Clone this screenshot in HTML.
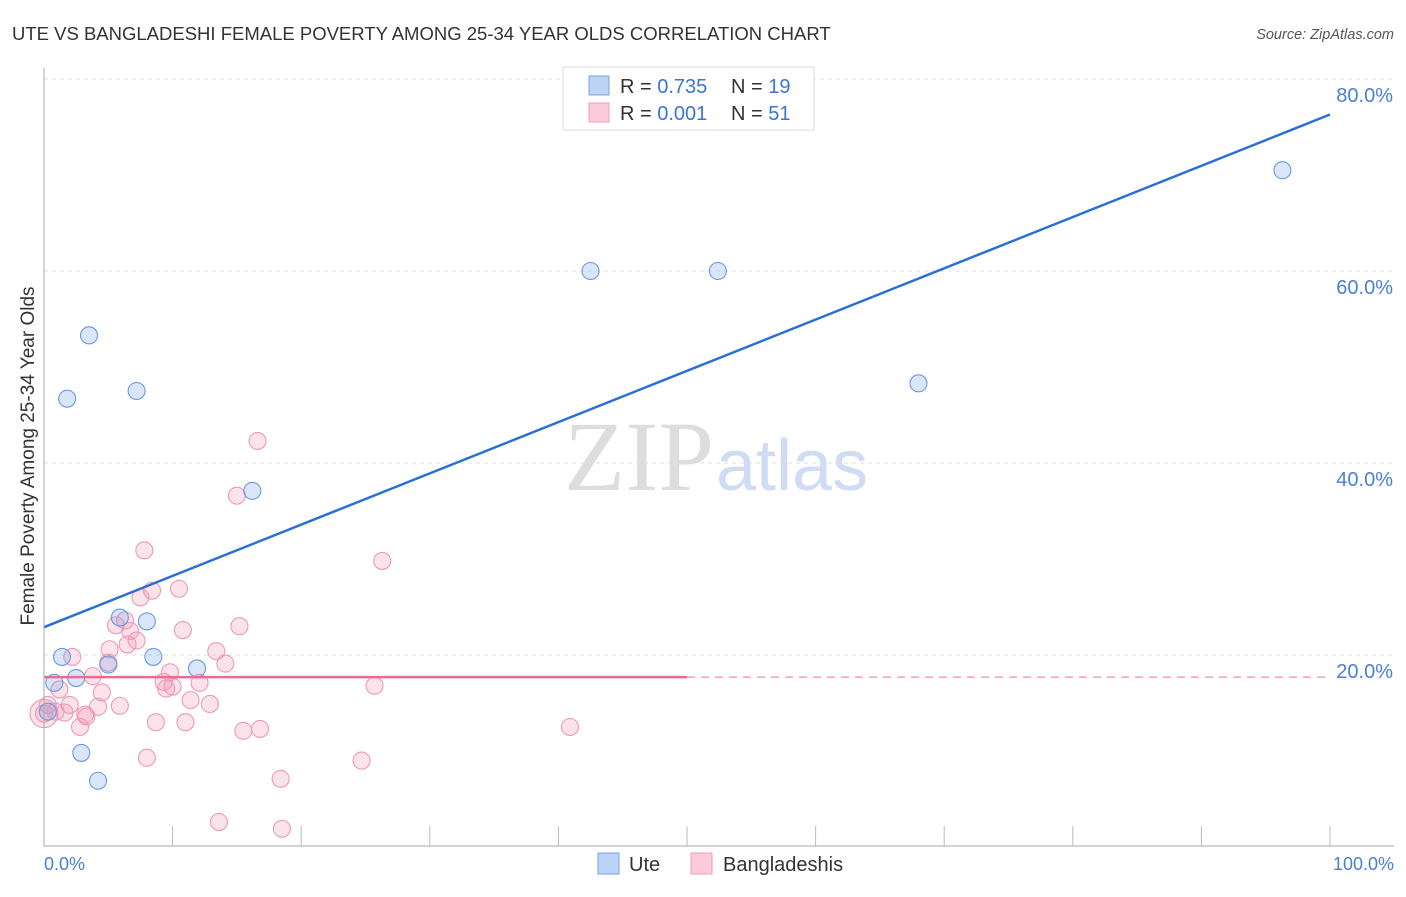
<!DOCTYPE html>
<html><head><meta charset="utf-8"><style>
body{margin:0;background:#fff;font-family:"Liberation Sans",sans-serif}
svg text{font-family:"Liberation Sans",sans-serif}
</style></head><body>
<svg width="1406" height="892" id="c">
<text x="12" y="40" font-size="18.5" fill="#333">UTE VS BANGLADESHI FEMALE POVERTY AMONG 25-34 YEAR OLDS CORRELATION CHART</text>
<text x="1394" y="39" font-size="14.5" fill="#555" font-style="italic" text-anchor="end">Source: ZipAtlas.com</text>
<text x="34" y="456" font-size="19" fill="#333" text-anchor="middle" transform="rotate(-90 34 456)">Female Poverty Among 25-34 Year Olds</text>
<text x="714" y="490" font-size="100" fill="#ddd" text-anchor="end" style="font-family:'Liberation Serif',serif">ZIP</text>
<text x="716" y="490" font-size="72" fill="#cfdcf3">atlas</text>
<g id="grid"></g><g id="ticks"></g><g id="pts"></g><g id="lines"></g>
<line x1="44" y1="68" x2="44" y2="846" stroke="#aaa"/>
<line x1="44" y1="846" x2="1394" y2="846" stroke="#aaa"/>
<text x="44" y="870" font-size="18" fill="#4a7fd4">0.0%</text>
<text x="1394" y="870" font-size="18" fill="#4a7fd4" text-anchor="end">100.0%</text>
<g>
<rect x="563" y="67" width="251" height="63" fill="#fff" stroke="#ddd"/>
<rect x="589" y="76" width="20" height="19" fill="#bcd3f5" stroke="#7aa3e3"/>
<rect x="589" y="103" width="20" height="19" fill="#fbcbd9" stroke="#ee9fb7"/>
<text x="620" y="93" font-size="20" fill="#333">R = <tspan fill="#3b74d6">0.735</tspan></text>
<text x="731" y="93" font-size="20" fill="#333">N = <tspan fill="#3b74d6">19</tspan></text>
<text x="620" y="120" font-size="20" fill="#333">R = <tspan fill="#3b74d6">0.001</tspan></text>
<text x="731" y="120" font-size="20" fill="#333">N = <tspan fill="#3b74d6">51</tspan></text>
</g>
<g>
<rect x="598" y="853" width="21" height="21" fill="#bcd3f5" stroke="#7aa3e3"/>
<text x="629" y="871" font-size="20" fill="#333">Ute</text>
<rect x="691" y="853" width="21" height="21" fill="#fbcbd9" stroke="#ee9fb7"/>
<text x="723" y="871" font-size="20" fill="#333">Bangladeshis</text>
</g>
</svg>
<script>
const yTicks=[20,40,60,80];
const yTickLabels=["20.0%","40.0%","60.0%","80.0%"];
const xTicks=[10,20,30,40,50,60,70,80,90,100];
const uteX=[0.3,0.8,1.4,1.8,2.5,2.9,3.5,4.2,5.0,5.9,7.2,8.0,8.5,11.9,16.2,42.5,52.4,68.0,96.3];
const uteY=[14.1,17.1,19.8,46.7,17.6,9.8,53.3,6.9,19.0,23.9,47.5,23.5,19.8,18.6,37.1,60.0,60.0,48.3,70.5];
const banX=[0,0.3,0.9,1.2,1.6,2.0,2.2,2.8,3.2,3.3,3.8,4.2,4.5,5.0,5.1,5.6,5.9,6.3,6.5,6.7,7.2,7.5,7.8,8.0,8.4,8.7,9.3,9.5,9.8,10.0,10.5,10.8,11.0,11.4,12.1,12.9,13.4,13.6,14.1,15.0,15.2,15.5,16.6,16.8,18.4,18.5,24.7,25.7,26.3,40.9,0];
const banY=[13.9,14.8,14.1,16.4,14.0,14.8,19.8,12.5,13.8,13.6,17.8,14.6,16.1,19.2,20.6,23.1,14.7,23.6,21.1,22.5,21.5,26.0,30.9,9.3,26.7,13.0,17.2,16.5,18.2,16.7,26.9,22.6,13.0,15.3,17.1,14.9,20.4,2.6,19.1,36.6,23.0,12.1,42.3,12.3,7.1,1.9,9.0,16.8,29.8,12.5,13.9];
const uteLine=[22.9,76.3];
const banLine=[17.7,17.7];
const banSolidEnd=50;
const NS="http://www.w3.org/2000/svg";
const X=v=>44+v*12.86, Y=v=>847-v*9.6;
function mk(t,a,p){const e=document.createElementNS(NS,t);for(const k in a)e.setAttribute(k,a[k]);document.getElementById(p).appendChild(e);return e;}
yTicks.forEach((t,i)=>{
 const l=mk('line',{x1:44,x2:1394,y1:Y(t),y2:Y(t),stroke:'#ddd','stroke-dasharray':'4,4'},'grid');
 
 
 const tx=mk('text',{x:1393,y:Y(t)+23,'font-size':20,fill:'#4a7fd4','text-anchor':'end'},'grid');
 tx.textContent=yTickLabels[i];
 
 
});
xTicks.forEach(t=>{
 const l=mk('line',{x1:X(t),x2:X(t),y1:826,y2:846,stroke:'#bbb'},'ticks');
 
 
});
banX.forEach((x,i)=>{
 const c=mk('circle',{cx:X(x),cy:Y(banY[i]),r:i==banX.length-1?14:8.5,fill:'rgba(244,150,180,0.28)',stroke:'#eb9bb4','stroke-width':1.1},'pts');
 
 
});
uteX.forEach((x,i)=>{
 const c=mk('circle',{cx:X(x),cy:Y(uteY[i]),r:8.5,fill:'rgba(120,165,235,0.28)',stroke:'#6b9ae0','stroke-width':1.1},'pts');
 
 
});
let l=mk('line',{x1:X(0),y1:Y(uteLine[0]),x2:X(100),y2:Y(uteLine[1]),stroke:'#2a6fd6','stroke-width':2.5},'lines');


const bm=banLine[0]+(banLine[1]-banLine[0])*banSolidEnd/100;
l=mk('line',{x1:X(0),y1:Y(banLine[0]),x2:X(banSolidEnd),y2:Y(bm),stroke:'#ec6a94','stroke-width':2.5},'lines');


l=mk('line',{x1:X(banSolidEnd),y1:Y(bm),x2:X(100),y2:Y(banLine[1]),stroke:'#f0a0b8','stroke-width':1.5,'stroke-dasharray':'8,6'},'lines');


</script>
</body></html>
